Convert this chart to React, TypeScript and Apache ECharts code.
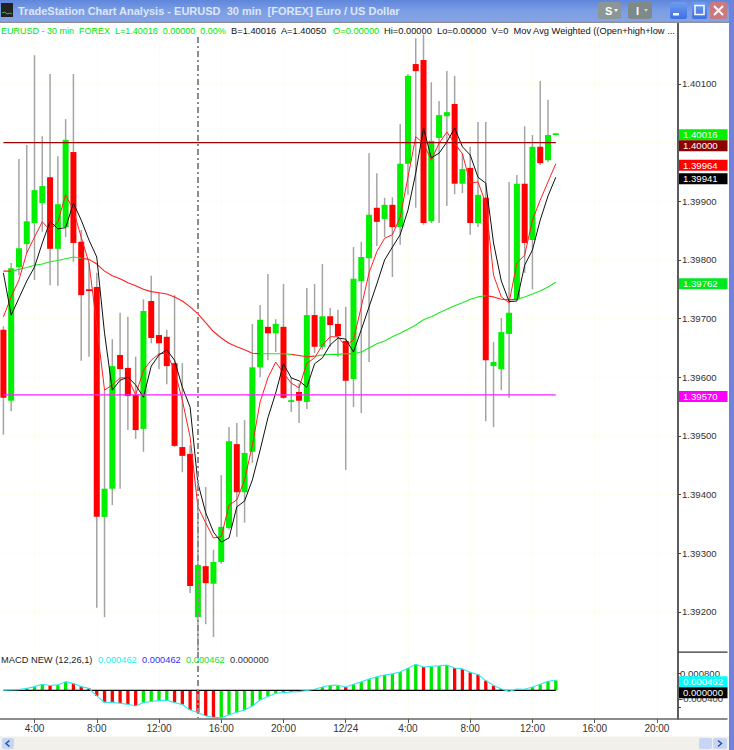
import React, { useEffect, useRef } from "react";
import * as echarts from "echarts";

const opens = [1.39681,1.3956,1.39788,1.39827,1.39863,1.39897,1.39941,1.39819,1.39856,1.39984,1.39831,1.3975,1.39754,1.39362,1.3941,1.39638,1.39616,1.3957,1.39512,1.3973,1.39672,1.39669,1.39624,1.39481,1.39469,1.39191,1.39278,1.39248,1.39285,1.39343,1.39486,1.39404,1.39473,1.39617,1.39686,1.39675,1.39686,1.39558,1.39575,1.39558,1.39706,1.39652,1.39704,1.39691,1.39662,1.39597,1.39764,1.39803,1.39889,1.3987,1.39894,1.39856,1.39964,1.40134,1.40141,1.39866,1.40008,1.40045,1.40066,1.3993,1.39957,1.39863,1.39906,1.39619,1.39614,1.39674,1.39733,1.3993,1.39834,1.39993,1.3997,1.40016];
const highs = [1.39687,1.39795,1.39972,1.39996,1.40149,1.40011,1.40117,1.39977,1.4004,1.40117,1.39851,1.39795,1.39778,1.39578,1.39665,1.3971,1.39703,1.39635,1.39733,1.39773,1.39744,1.39681,1.3974,1.39624,1.39484,1.39391,1.39413,1.39306,1.39433,1.39515,1.39522,1.39527,1.39691,1.39723,1.39776,1.39699,1.39759,1.396,1.3959,1.39752,1.39759,1.39793,1.39718,1.39715,1.3972,1.39822,1.39831,1.39982,1.39948,1.39906,1.39907,1.40032,1.40117,1.40178,1.40184,1.40103,1.40071,1.40122,1.40114,1.39982,1.39993,1.40035,1.40035,1.3966,1.39701,1.39933,1.39945,1.40028,1.40013,1.40105,1.40073,1.40016];
const lows = [1.39502,1.39542,1.39774,1.39812,1.39766,1.39848,1.39757,1.39756,1.39839,1.39797,1.39628,1.39635,1.39207,1.39191,1.39382,1.3941,1.3951,1.39495,1.39473,1.39658,1.39614,1.39588,1.39481,1.39438,1.39232,1.39133,1.39179,1.39157,1.39282,1.3934,1.39328,1.39352,1.39454,1.396,1.39629,1.39643,1.39563,1.39541,1.39522,1.39546,1.39641,1.39647,1.39652,1.39635,1.39442,1.39549,1.39539,1.39626,1.39824,1.39839,1.39771,1.39826,1.39911,1.39889,1.3986,1.39863,1.39863,1.39892,1.39912,1.39914,1.39843,1.39856,1.39525,1.39515,1.39578,1.39565,1.39732,1.39778,1.3975,1.39962,1.39967,1.40016];
const closes = [1.39565,1.39786,1.3982,1.39866,1.39919,1.39926,1.39819,1.39895,1.40005,1.39829,1.3974,1.39747,1.39362,1.3941,1.39619,1.39614,1.39568,1.3951,1.39713,1.39667,1.39658,1.39619,1.39483,1.39466,1.39244,1.3928,1.39249,1.39285,1.39345,1.39491,1.39404,1.39471,1.39617,1.39698,1.39675,1.39691,1.39565,1.39561,1.3956,1.39706,1.39652,1.39704,1.39689,1.3967,1.39594,1.39768,1.39805,1.39877,1.39865,1.39894,1.39856,1.39964,1.40114,1.40122,1.39863,1.40003,1.40047,1.40052,1.3993,1.39955,1.39863,1.39911,1.39629,1.39626,1.39677,1.3971,1.3993,1.39829,1.39993,1.39965,1.40013,1.40016];

const wmaBlack = [1.39778,1.39706,1.39735,1.39764,1.39788,1.39829,1.39866,1.39853,1.39855,1.39897,1.39868,1.39834,1.39805,1.39675,1.39578,1.39595,1.396,1.39587,1.39566,1.39619,1.39638,1.39647,1.39629,1.39583,1.39549,1.3942,1.39369,1.39336,1.39319,1.39326,1.39379,1.39389,1.39425,1.39476,1.39531,1.39573,1.39623,1.39599,1.39594,1.39583,1.39623,1.39633,1.39655,1.39667,1.39665,1.39643,1.39681,1.3972,1.39759,1.398,1.39822,1.39843,1.39885,1.39948,1.40025,1.39974,1.39982,1.40001,1.40025,1.39993,1.39979,1.39941,1.39931,1.39829,1.39764,1.39729,1.3973,1.39791,1.39817,1.39868,1.39909,1.39941];
const wmaRed = [1.39703,1.39737,1.39766,1.39812,1.39839,1.39865,1.39851,1.39865,1.39911,1.39885,1.39839,1.39795,1.39689,1.39578,1.39587,1.39599,1.39599,1.3957,1.39612,1.39629,1.3964,1.39641,1.39612,1.39561,1.39498,1.39379,1.39352,1.39326,1.39328,1.39382,1.39391,1.39425,1.39484,1.39558,1.39599,1.39626,1.39607,1.3959,1.39582,1.39624,1.39633,1.39655,1.39669,1.39669,1.39653,1.39664,1.3972,1.39778,1.39814,1.39837,1.39843,1.39873,1.39941,1.4001,1.39999,1.3997,1.39999,1.40018,1.39999,1.39981,1.39931,1.39933,1.39897,1.39774,1.39737,1.39727,1.39795,1.39808,1.39868,1.39902,1.39933,1.39964];
const wmaSlow = [1.39781,1.39781,1.39784,1.39787,1.39791,1.39793,1.39797,1.39799,1.39802,1.39805,1.39803,1.39801,1.39793,1.39781,1.39773,1.39768,1.39761,1.39756,1.3975,1.39746,1.39744,1.39742,1.39737,1.3973,1.3972,1.39708,1.39693,1.39678,1.39667,1.39658,1.39652,1.39647,1.39641,1.3964,1.3964,1.3964,1.3964,1.39639,1.39637,1.39635,1.39636,1.39638,1.39639,1.39639,1.3964,1.3964,1.39643,1.3965,1.39657,1.39662,1.39669,1.39675,1.39682,1.39689,1.39698,1.39703,1.3971,1.39716,1.39722,1.39727,1.39733,1.39737,1.39739,1.39737,1.39733,1.39732,1.39733,1.39737,1.39742,1.39747,1.39754,1.39762];
// Segments (start,end index) where the slow average is drawn red.
const slowRedRuns = [[0, 1], [10, 33], [37, 40], [44, 45], [62, 66]];

const macdValues = [0,0.00002,0.00003,0.00009,0.00017,0.00028,0.00022,0.00025,0.0004,0.00031,0.00017,0.00009,-0.00026,-0.00056,-0.00056,-0.0006,-0.00065,-0.00073,-0.00057,-0.00052,-0.00048,-0.00046,-0.00057,-0.00066,-0.00091,-0.00103,-0.00119,-0.00125,-0.00127,-0.00113,-0.00102,-0.00091,-0.00073,-0.00045,-0.00029,-0.00014,-0.00011,-0.00008,-0.00006,-0.00001,0.00005,0.00015,0.00023,0.00023,0.00015,0.00028,0.00039,0.00052,0.00062,0.00071,0.00076,0.00085,0.00102,0.0012,0.00108,0.00111,0.00113,0.00117,0.00103,0.00099,0.00083,0.00073,0.00045,0.00022,0.00006,-0.00005,0.00006,0.00005,0.00015,0.00028,0.00042,0.000462];
const macdRedBars = [6,9,10,11,12,13,14,15,16,17,22,23,24,25,26,27,44,54,58,59,60,61,62,63,64,65];

const tickIndex = [4, 12, 20, 28, 36, 44, 52, 60, 68, 76, 84];
const tickLabels = ["4:00", "8:00", "12:00", "16:00", "20:00", "12/24", "4:00", "8:00", "12:00", "16:00", "20:00"];
const priceTicks = [1.392, 1.393, 1.394, 1.395, 1.396, 1.397, 1.398, 1.399, 1.4, 1.401];
const priceLabelTicks = [1.392, 1.393, 1.394, 1.395, 1.396, 1.397, 1.398, 1.399, 1.401];
const macdLabelTicks = [0.0008, -0.0004];
const macdTicks = [0.0008, 0.0004, 0, -0.0004, -0.0008];
const levelHigh = 1.4;
const levelLow = 1.3957;
const cursorIndex = 25;

const priceBadges = [
  { value: 1.40016, text: "1.40016", fill: "#00f000" },
  { value: 1.4, text: "1.40000", fill: "#8c0000" },
  { value: 1.39964, text: "1.39964", fill: "#ff0000" },
  { value: 1.39941, text: "1.39941", fill: "#000000" },
  { value: 1.39762, text: "1.39762", fill: "#00e820" },
  { value: 1.3957, text: "1.39570", fill: "#ff00ff" },
];
const macdBadges = [
  { value: 0.000462, text: "0.000462", fill: "#00ffff" },
  { value: 0, text: "0.000000", fill: "#000000" },
];

const FONT = "Liberation Sans";
const X_MIN = -0.437;
const X_MAX = 86.71;
const P_MIN = 1.391316;
const P_MAX = 1.40204;
const M_MIN = -0.001329;
const M_MAX = 0.001773;
const GRID_TINT = "#fdfdf0";

const idx = opens.map((_, i) => i);
const isSlowRed = (i: number) => slowRedRuns.some(([a, b]) => i >= a && i <= b);
const slowRed = wmaSlow.map((v, i) => [i, isSlowRed(i) ? v : null]);
const slowGreen = wmaSlow.map((v, i) => {
  const seg = (j: number) => j >= 0 && j < wmaSlow.length - 1 && !slowRedRuns.some(([a, b]) => j >= a && j < b);
  return [i, seg(i) || seg(i - 1) ? v : null];
});

function renderCandle(params: any, api: any) {
  const i = api.value(0);
  const [x, yO] = api.coord([i, api.value(1)]);
  const yH = api.coord([i, api.value(2)])[1];
  const yL = api.coord([i, api.value(3)])[1];
  const yC = api.coord([i, api.value(4)])[1];
  const up = api.value(4) >= api.value(1);
  const top = Math.min(yO, yC);
  const h = Math.max(Math.abs(yO - yC), 1.8);
  return {
    type: "group",
    children: [
      { type: "line", shape: { x1: x, y1: yH, x2: x, y2: yL }, style: { stroke: "#a4a4a4", lineWidth: 1.5 } },
      { type: "rect", shape: { x: x - 3, y: top, width: 6, height: h }, style: { fill: up ? "#00f000" : "#ff0000" } },
    ],
  };
}

function chrome() {
  const txt = (x: number, y: number, text: string, fill: string, extra: any = {}) => ({
    type: "text",
    x,
    y,
    z: 100,
    silent: true,
    style: { text, fill, font: `9.3px "${FONT}"`, textVerticalAlign: "middle", ...extra },
  });
  const box = (x: number, y: number, w: number, h: number, fill: any, extra: any = {}) => ({
    type: "rect",
    z: 90,
    silent: true,
    shape: { x, y, width: w, height: h, ...(extra.shape || {}) },
    style: { fill, ...(extra.style || {}) },
  });
  const bar = new echarts.graphic.LinearGradient(0, 0, 0, 1, [
    { offset: 0, color: "#5f86dc" },
    { offset: 0.5, color: "#7c9ee4" },
    { offset: 1, color: "#86a4e4" },
  ]);
  const btnBlue = new echarts.graphic.LinearGradient(0, 0, 0, 1, [
    { offset: 0, color: "#6f9cf0" },
    { offset: 1, color: "#3f70e0" },
  ]);
  return [
    box(0, 0, 734, 22, bar),
    box(0, 21.5, 729, 1.5, "#8f8f98"),
    box(729, 0, 5, 750, "#6f82dc"),
    box(1, 3, 12, 14, "#222222"),
    { type: "polyline", z: 92, silent: true, shape: { points: [[2, 13], [5, 12], [7, 14], [10, 13], [12, 14]] }, style: { stroke: "#20d020", fill: "none", lineWidth: 1 } },
    txt(18, 11, "TradeStation Chart Analysis - EURUSD  30 min  [FOREX] Euro / US Dollar", "#dce6fa", { font: `bold 11px "${FONT}"` }),
    box(598, 2, 23, 17, "#8c9696", { shape: { r: 3 } }),
    txt(605, 11, "S", "#ffffff", { font: `bold 11px "${FONT}"` }),
    { type: "polygon", z: 92, silent: true, shape: { points: [[614, 9], [618, 9], [616, 12]] }, style: { fill: "#ffffff" } },
    box(628, 2, 24, 17, "#7e8a8a", { shape: { r: 3 } }),
    txt(636, 11, "I", "#ffffff", { font: `bold 11px "${FONT}"` }),
    { type: "polygon", z: 92, silent: true, shape: { points: [[644, 9], [648, 9], [646, 12]] }, style: { fill: "#c8d0d0" } },
    box(670, 2, 17, 17, btnBlue, { shape: { r: 2 } }),
    box(673, 13, 6, 2.5, "#ffffff"),
    box(692, 2, 15, 17, btnBlue, { shape: { r: 2 } }),
    box(695, 5.5, 9, 9, "none", { style: { stroke: "#ffffff", lineWidth: 1.5 } }),
    box(710, 2, 17, 17, "#c87a80", { shape: { r: 2 } }),
    { type: "line", z: 92, silent: true, shape: { x1: 714, y1: 6, x2: 723, y2: 15 }, style: { stroke: "#ffffff", lineWidth: 2 } },
    { type: "line", z: 92, silent: true, shape: { x1: 723, y1: 6, x2: 714, y2: 15 }, style: { stroke: "#ffffff", lineWidth: 2 } },
    txt(1, 30.5, "EURUSD - 30 min  FOREX  L=1.40016  0.00000  0.00%", "#00e800", { font: `9px "${FONT}"` }),
    txt(231, 30.5, "B=1.40016  A=1.40050", "#111111"),
    txt(333, 30.5, "O=0.00000", "#00e800"),
    txt(384, 30.5, "Hi=0.00000  Lo=0.00000  V=0  Mov Avg Weighted ((Open+high+low ...", "#111111"),
    txt(1, 659.5, "MACD NEW (12,26,1)", "#222222"),
    txt(98, 659.5, "0.000462", "#18f0f0"),
    txt(142, 659.5, "0.000462", "#3030f0"),
    txt(186, 659.5, "0.000462", "#20e020"),
    txt(230, 659.5, "0.000000", "#333333"),
    box(678, 651.5, 49.5, 1.2, "#333333"),
    box(678, 718.2, 49.5, 1.5, "#666666"),
    box(0, 736.5, 729, 13.5, "#f1f0ea"),
    box(2, 738, 12, 11, "#c6d6f4", { shape: { r: 2 } }),
    { type: "polyline", z: 92, silent: true, shape: { points: [[9.5, 740.5], [6, 743.5], [9.5, 746.5]] }, style: { stroke: "#30509c", fill: "none", lineWidth: 1.5 } },
    box(699, 738, 13, 11, "#c6d6f4", { shape: { r: 2 } }),
    box(713, 738, 14, 11, "#c6d6f4", { shape: { r: 2 } }),
    { type: "polyline", z: 92, silent: true, shape: { points: [[718, 740.5], [721.5, 743.5], [718, 746.5]] }, style: { stroke: "#30509c", fill: "none", lineWidth: 1.5 } },
  ];
}

export default function App() {
  const ref = useRef<HTMLDivElement>(null);
  useEffect(() => {
    const chart = echarts.init(ref.current!, null, { renderer: "svg", width: 734, height: 750 });
    chart.setOption({
      animation: false,
      backgroundColor: "#ffffff",
      grid: [
        { left: 0, right: 56, top: 23, height: 629 },
        { left: 0, right: 56, top: 652, height: 67 },
      ],
      xAxis: [
        {
          type: "value", gridIndex: 0, min: X_MIN, max: X_MAX,
          axisLine: { show: false },
          axisTick: { show: false, customValues: tickIndex },
          axisLabel: { show: false, customValues: tickIndex },
          splitLine: { show: true, lineStyle: { color: GRID_TINT, width: 1 } },
        },
        {
          type: "value", gridIndex: 1, min: X_MIN, max: X_MAX,
          axisLine: { show: true, onZero: false, lineStyle: { color: "#666666", width: 1.5 } },
          axisTick: { show: true, length: 4, customValues: tickIndex, lineStyle: { color: "#555555" } },
          axisLabel: {
            show: true, customValues: tickIndex, margin: 4,
            color: "#333333", fontFamily: FONT, fontSize: 10,
            formatter: (v: number) => tickLabels[tickIndex.indexOf(v)] ?? "",
          },
          splitLine: { show: true, lineStyle: { color: GRID_TINT, width: 1 } },
        },
      ],
      yAxis: [
        {
          type: "value", gridIndex: 0, position: "right", min: P_MIN, max: P_MAX, scale: true,
          axisLine: { show: true, onZero: false, lineStyle: { color: "#5c5c5c", width: 2 } },
          axisTick: { show: true, length: 3, customValues: priceTicks, lineStyle: { color: "#444444" } },
          axisLabel: {
            customValues: priceLabelTicks, margin: 4, color: "#333333", fontFamily: FONT, fontSize: 9.6,
            formatter: (v: number) => v.toFixed(5),
          },
          splitLine: { show: true, lineStyle: { color: GRID_TINT, width: 1 } },
        },
        {
          type: "value", gridIndex: 1, position: "right", min: M_MIN, max: M_MAX,
          axisLine: { show: true, onZero: false, lineStyle: { color: "#5c5c5c", width: 2 } },
          axisTick: { show: true, length: 3, customValues: macdTicks, lineStyle: { color: "#444444" } },
          axisLabel: {
            customValues: macdLabelTicks, margin: 2, color: "#333333", fontFamily: FONT, fontSize: 9.6,
            formatter: (v: number) => v.toFixed(6),
          },
          splitLine: { show: false },
        },
      ],
      series: [
        {
          name: "EURUSD", type: "custom", xAxisIndex: 0, yAxisIndex: 0, renderItem: renderCandle,
          encode: { x: 0, y: [1, 2, 3, 4] },
          data: idx.map((i) => [i, opens[i], highs[i], lows[i], closes[i]]),
          markLine: {
            silent: true, symbol: ["none", "none"], label: { show: false },
            lineStyle: { color: "#8c8c8c", width: 2, type: [6, 3, 2, 3] },
            data: [[{ coord: [cursorIndex, 1.4018] }, { coord: [cursorIndex, P_MIN] }]],
          },
        },
        { name: "Slow WMA red", type: "line", xAxisIndex: 0, yAxisIndex: 0, data: slowRed, showSymbol: false, lineStyle: { color: "#ff2020", width: 1.1 } },
        { name: "Slow WMA green", type: "line", xAxisIndex: 0, yAxisIndex: 0, data: slowGreen, showSymbol: false, lineStyle: { color: "#20e820", width: 1.1 } },
        { name: "WMA fast", type: "line", xAxisIndex: 0, yAxisIndex: 0, data: idx.map((i) => [i, wmaRed[i]]), showSymbol: false, lineStyle: { color: "#ff2020", width: 1 } },
        { name: "WMA", type: "line", xAxisIndex: 0, yAxisIndex: 0, data: idx.map((i) => [i, wmaBlack[i]]), showSymbol: false, lineStyle: { color: "#101010", width: 1 } },
        { name: "Level high", type: "line", xAxisIndex: 0, yAxisIndex: 0, data: idx.map((i) => [i, levelHigh]), showSymbol: false, lineStyle: { color: "#a00000", width: 1.3 } },
        { name: "Level low", type: "line", xAxisIndex: 0, yAxisIndex: 0, data: idx.map((i) => [i, levelLow]), showSymbol: false, lineStyle: { color: "#ff20ff", width: 1.3 } },
        {
          name: "MACD hist", type: "bar", xAxisIndex: 1, yAxisIndex: 1, barWidth: 3.3,
          data: idx.map((i) => ({
            value: [i, macdValues[i]],
            itemStyle: { color: macdRedBars.includes(i) ? "#ff0000" : "#00e800" },
          })),
          markLine: {
            silent: true, symbol: ["none", "none"], label: { show: false },
            lineStyle: { color: "#8c8c8c", width: 2, type: [6, 3, 2, 3] },
            data: [[{ coord: [cursorIndex, M_MAX] }, { coord: [cursorIndex, M_MIN] }]],
          },
        },
        { name: "Zero", type: "line", xAxisIndex: 1, yAxisIndex: 1, data: idx.map((i) => [i, 0]), showSymbol: false, lineStyle: { color: "#000000", width: 1.2 } },
        { name: "MACD", type: "line", xAxisIndex: 1, yAxisIndex: 1, data: idx.map((i) => [i, macdValues[i]]), showSymbol: false, lineStyle: { color: "#30e8f0", width: 1.1 } },
      ],
    });

    const badge = (b: any, y: number, h: number) => [
      { type: "rect", z: 95, silent: true, shape: { x: 679, y: y - h / 2, width: 48.5, height: h }, style: { fill: b.fill } },
      {
        type: "text", z: 96, silent: true, x: 683, y,
        style: { text: b.text, fill: "#ffffff", font: `9.6px "${FONT}"`, textVerticalAlign: "middle" },
      },
    ];
    let prev = -100;
    const priceEls = priceBadges.flatMap((b) => {
      const raw = (chart.convertToPixel({ yAxisIndex: 0 } as any, b.value) as number) + 1.6;
      const y = Math.max(raw, prev + 11);
      prev = y;
      return badge(b, y, 11);
    });
    const macdY0 = chart.convertToPixel({ yAxisIndex: 1 } as any, macdBadges[0].value) as number;
    const macdEls = macdBadges.flatMap((b, k) => badge(b, macdY0 + 1.5 + k * 11, 11));
    chart.setOption({ graphic: { elements: [...chrome(), ...priceEls, ...macdEls] } });

    return () => chart.dispose();
  }, []);
  return <div ref={ref} style={{ position: "fixed", left: 0, top: 0, width: 734, height: 750 }} />;
}
